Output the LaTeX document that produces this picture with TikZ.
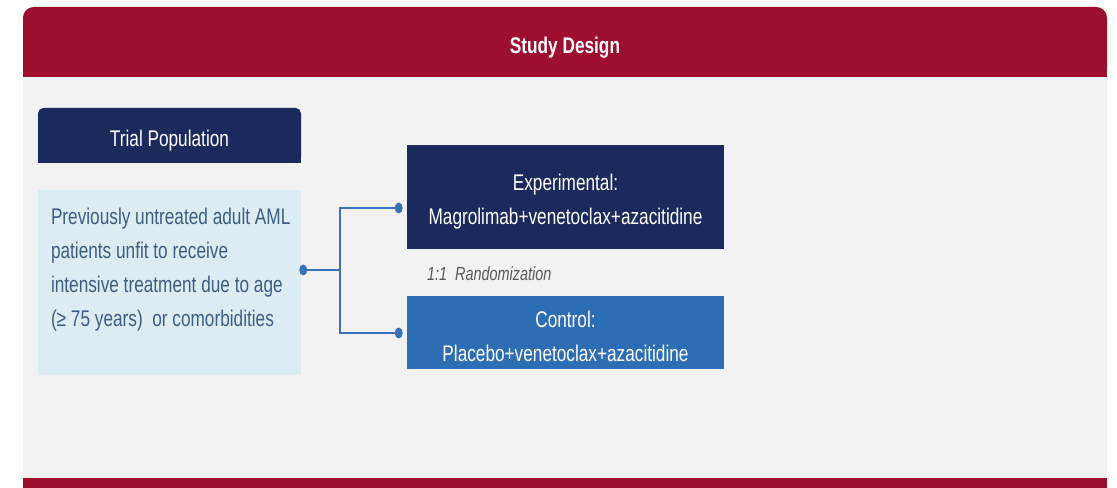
\documentclass[tikz,border=0pt]{standalone}
\usepackage{fontspec}
\setmainfont{Liberation Sans}[FakeStretch=0.76]
\usetikzlibrary{calc,positioning}
\definecolor{headRed}{HTML}{9D0E2F}
\definecolor{panelGrey}{HTML}{F2F2F2}
\definecolor{armNavy}{HTML}{1B2A5C}
\definecolor{armBlue}{HTML}{2D6DB4}
\definecolor{popFill}{HTML}{DBEDF3}
\definecolor{popInk}{HTML}{3E5E80}
\definecolor{linkBlue}{HTML}{3A71B9}
\definecolor{randGrey}{HTML}{5A5A5A}
\begin{document}
\begin{tikzpicture}[x=0.75pt, y=-0.75pt,
    bar/.style={fill=headRed, rounded corners=8pt,
      minimum width=813pt, minimum height=52.5pt, inner sep=0pt},
    barTitle/.style={text=white, inner sep=0pt,
      font=\bfseries\fontsize{17}{20}\selectfont},
    tabHead/.style={fill=armNavy, rounded corners=4pt,
      minimum width=197.25pt, minimum height=41.25pt, inner sep=0pt},
    tabTitle/.style={text=white, inner sep=0pt,
      font=\fontsize{17}{20}\selectfont},
    popBox/.style={fill=popFill, minimum width=197.25pt, minimum height=138.75pt, inner sep=0pt},
    popText/.style={text=popInk, align=left, inner sep=0pt,
      font=\fontsize{17}{25.5}\selectfont},
    arm/.style={text=white, align=center, minimum width=237.75pt, inner sep=0pt,
      font=\fontsize{17}{25.5}\selectfont},
    link/.style={linkBlue, line width=1.5pt},
    dot/.style={fill=linkBlue}]
  \useasboundingbox (0,0) rectangle (1117,488);
  \fill[white] (0,0) rectangle (1117,488);
  % --- panel ---
  \node[bar] (head) at (565,42) {};
  \fill[headRed] (head.west) rectangle (head.south east);
  \node[barTitle] (headTxt) at ($(head.center)+(0,6)$) {Study Design};
  \fill[panelGrey] (head.south west) rectangle (1107,478);
  \fill[headRed] (23,478) rectangle (1107,488);
  % --- trial population ---
  \node[tabHead] (popHead) at (169.5,135.5) {};
  \fill[armNavy] (popHead.west) rectangle (popHead.south east);
  \node[tabTitle] (popHeadTxt) at ($(popHead.center)+(0,5)$) {Trial Population};
  \node[popBox] (pop) at (169.5,282.5) {};
  \node[popText, anchor=north west] (popTxt) at ($(pop.north west)+(13,18)$)
    {Previously untreated adult AML\\patients unfit to receive\\
     intensive treatment due to age\\(≥ 75 years)\ \ or comorbidities};
  % --- arms ---
  \node[arm, fill=armNavy, minimum height=78pt] (expt) at (565.5,197)
    {\rule{0pt}{20pt}Experimental:\\Magrolimab+venetoclax+azacitidine};
  \node[arm, fill=armBlue, minimum height=54pt] (ctrl) at (565.5,332.5)
    {\rule{0pt}{18pt}Control:\\Placebo+venetoclax+azacitidine};
  \node[text=randGrey, anchor=west, inner sep=0pt,
        font=\itshape\fontsize{14.25}{16}\selectfont] (rand)
    at ($(expt.south west)+(20,24)$) {1:1\ \ Randomization};
  % --- randomization branch ---
  \coordinate (popEnd) at ($(pop.east)+(2,-12.5)$);
  \coordinate (exptEnd) at ($(expt.west)+(-8,11)$);
  \coordinate (ctrlEnd) at ($(ctrl.west)+(-8,0.5)$);
  \draw[link] (popEnd) -- ++(37,0) coordinate (fork);
  \draw[link] (fork) |- (exptEnd);
  \draw[link] (fork) |- (ctrlEnd);
  \foreach \p in {popEnd,exptEnd,ctrlEnd}
    \fill[dot] (\p) ellipse (4 and 5.5);
\end{tikzpicture}
\end{document}
